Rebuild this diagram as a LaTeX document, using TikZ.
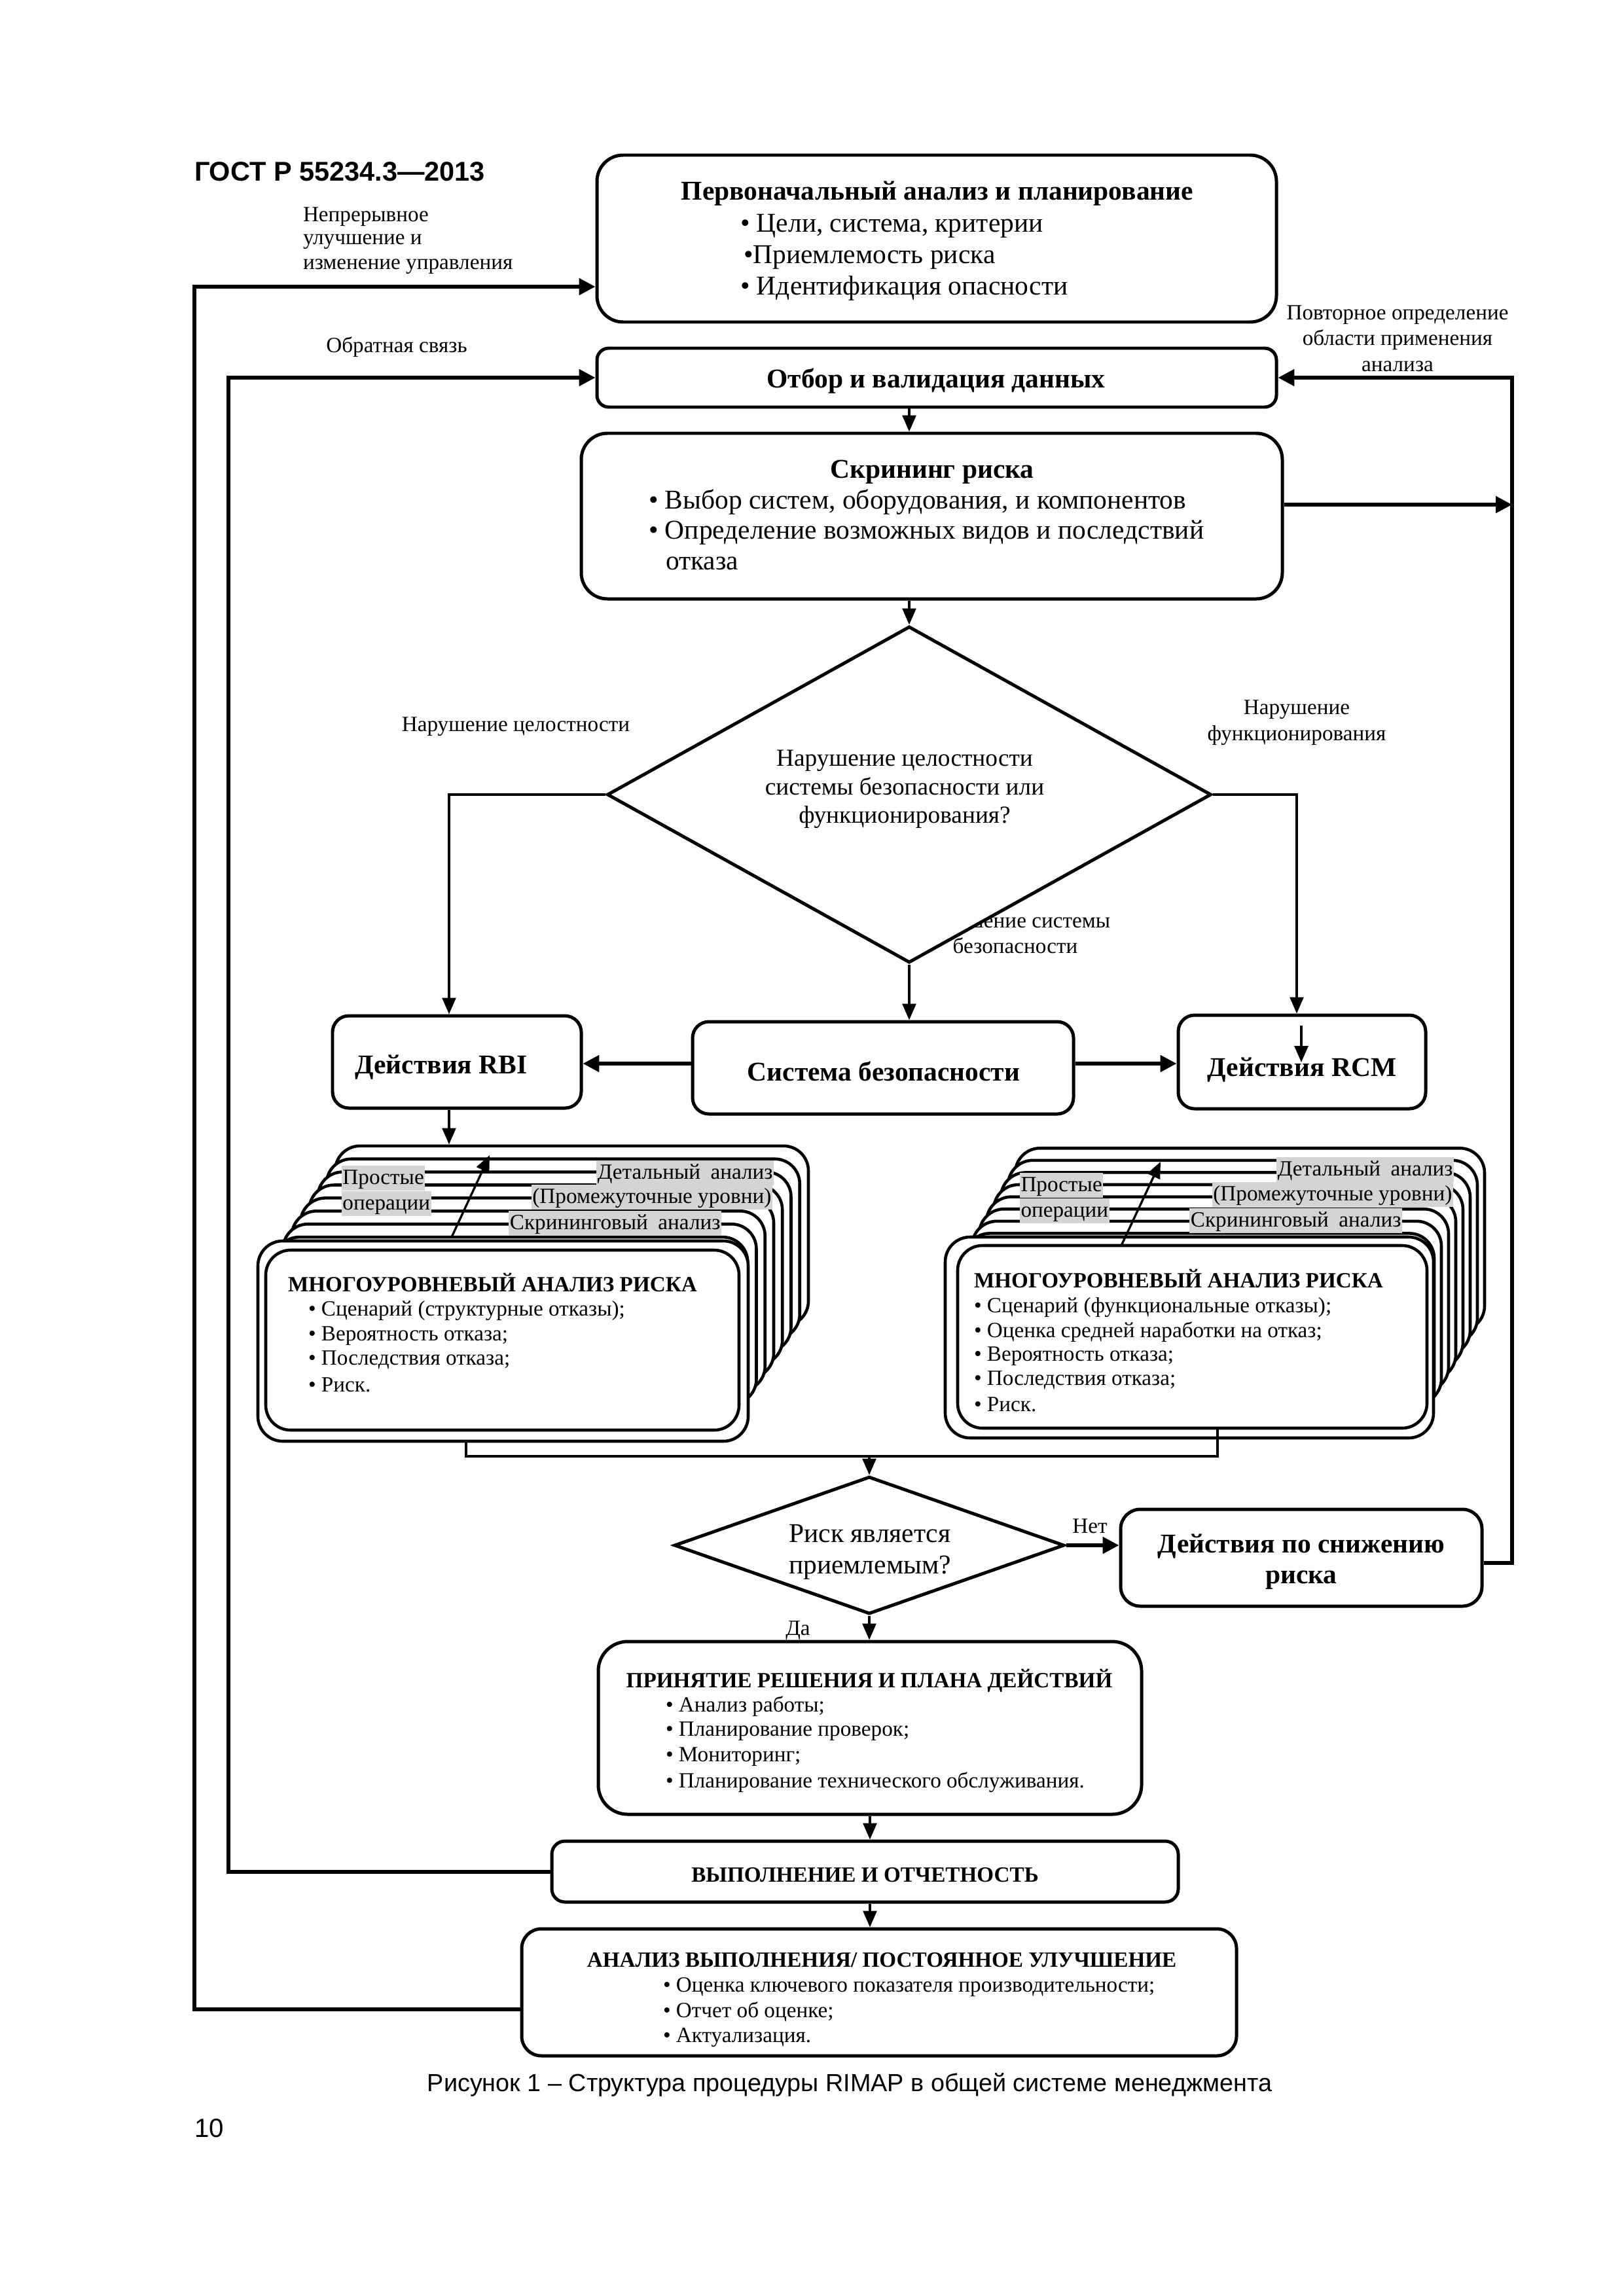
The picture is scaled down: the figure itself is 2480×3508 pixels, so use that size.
\documentclass[tikz,border=0pt]{standalone}
\usepackage{fontspec}
\usepackage{graphicx}
\setmainfont{Liberation Serif}
\newfontfamily\arialfam{Liberation Sans}
\usetikzlibrary{shapes.geometric,arrows.meta,calc}
\newlength\pxl
\setlength\pxl{0.0084677cm}
\definecolor{labgrey}{gray}{0.83}
\newcommand\fTen{\fontsize{10}{11.5}\selectfont}
\newcommand\fNine{\fontsize{9}{10.5}\selectfont}
\newcommand\fEight{\fontsize{8}{9.5}\selectfont}
\newcommand\hdrfont{\arialfam\bfseries\fontsize{10}{12}\selectfont}
\newcommand\capfont{\arialfam\fontsize{9.1}{12}\selectfont}
\newcommand\pgnfont{\arialfam\fontsize{9.7}{12}\selectfont}
\tikzset{
  box/.style={draw, line width=1.2pt, fill=white, inner sep=0pt, rounded corners=#1*\pxl},
  wh/.style 2 args={minimum width=#1*\pxl, minimum height=#2*\pxl},
  layer/.style={draw, line width=1.1pt, fill=white, inner sep=0pt, rounded corners=38*\pxl},
  dia/.style={draw, shape=diamond, line width=1.2pt, fill=white, inner sep=0pt},
  txt/.style={inner sep=0pt, outer sep=0pt, yshift=-5*\pxl},
  grey/.style={fill=labgrey, inner xsep=0.4pt, inner ysep=0.6pt, text height=6.2pt, text depth=1.9pt, font=\fEight},
  arr/.style={line width=0.8pt, -{Triangle[length=6pt,width=5pt]}},
  tarr/.style={line width=1.3pt, -{Triangle[length=6pt,width=6pt]}},
  ln/.style={line width=0.9pt},
}
\begin{document}
\begin{tikzpicture}[x=0.0084677cm, y=-0.0084677cm]
\fill[white] (0,0) rectangle (2480,3508);
\useasboundingbox (0,0) rectangle (2480,3508);

% header
\node[txt, anchor=west, font=\hdrfont] (hdr) at (297,257) {ГОСТ Р 55234.3—2013};

% side labels
\node[txt, anchor=west, font=\fEight] (ll1) at (463,326) {Непрерывное};
\node[txt, anchor=west, font=\fEight] (ll2) at (463,364) {улучшение и};
\node[txt, anchor=west, font=\fEight] (ll3) at (463,402) {изменение управления};
\node[txt, font=\fEight] (lfb) at (606,525) {Обратная связь};
\node[txt, font=\fEight, align=center] (lre) at (2135,512) {Повторное определение\\области применения\\анализа};

% box 1
\node[box=40, wh={1038}{255}] (b1) at (1431,364.5) {};
\node[txt, font=\fTen\bfseries] (b1t) at (1432,291) {Первоначальный анализ и планирование};
\node[txt, anchor=west, font=\fTen] (b1a) at (1131,340) {• Цели, система, критерии};
\node[txt, anchor=west, font=\fTen] (b1b) at (1136,388) {•Приемлемость риска};
\node[txt, anchor=west, font=\fTen] (b1c) at (1131,436) {• Идентификация опасности};

% box 2
\node[box=18, wh={1038}{90}] (b2) at (1431,577) {};
\node[txt, font=\fTen\bfseries] (b2t) at (1430,577) {Отбор и валидация данных};

% box 3
\node[box=40, wh={1071}{253}] (b3) at (1423.5,788.5) {};
\node[txt, font=\fTen\bfseries] (b3t) at (1424,716) {Скрининг риска};
\node[txt, anchor=west, font=\fTen] (b3a) at (991,762) {• Выбор систем, оборудования, и компонентов};
\node[txt, anchor=west, font=\fTen] (b3b) at (991,809) {• Определение возможных видов и последствий};
\node[txt, anchor=west, font=\fTen] (b3c) at (1017,856) {отказа};

% diamond 1 and its labels
\node[txt, font=\fEight, align=center] (lsafe) at (1551,1421) {Нарушение системы\\безопасности};
\node[dia, wh={923}{514}] (d1) at (1389,1214) {};
\node[txt, font=\fNine, align=center] (d1t) at (1382,1201) {Нарушение целостности\\системы безопасности или\\функционирования?};
\node[txt, font=\fEight] (lint) at (788,1105) {Нарушение целостности};
\node[txt, font=\fEight, align=center] (lfun) at (1981,1099) {Нарушение\\функционирования};

% row of boxes
\node[box=25, wh={380}{141}] (rbi) at (698,1622.5) {};
\node[txt, font=\fTen\bfseries] (rbit) at (674,1626) {Действия RBI};
\node[box=25, wh={582}{141}] (sys) at (1349,1631.5) {};
\node[txt, font=\fTen\bfseries] (syst) at (1350,1632) {Система безопасности};
\node[box=25, wh={378}{143}] (rcm) at (1989,1622.5) {};
\node[txt, font=\fTen\bfseries] (rcmt) at (1989,1630) {Действия RCM};

% left stack
\foreach \i in {8,7,...,1}
  \node[layer, wh={723}{275}] (L\i) at ({767.5+13.25*\i},{2047.5-19.9*\i}) {};
\node[layer, wh={749}{306}] (Lu) at (768.5,2049) {};
\node[layer, wh={723}{275}] (L0) at (767.5,2047.5) {};
\node[grey, anchor=north west] (lsp) at (521,1780) {Простые};
\node[grey, anchor=north west] (lso) at (521,1819) {операции};
\node[grey, anchor=north east] (lsd) at (1183,1772) {\makebox[64.5pt][s]{Детальный анализ}};
\node[grey, anchor=north east] (lsi) at (1181,1809) {\resizebox{88pt}{\height}{(Промежуточные уровни)}};
\node[grey, anchor=north east] (lss) at (1103,1849) {\makebox[77.5pt][s]{Скрининговый анализ}};
\node[txt, anchor=west, font=\fEight\bfseries] (lmt) at (440,1955) {МНОГОУРОВНЕВЫЙ АНАЛИЗ РИСКА};
\node[txt, anchor=west, font=\fEight] (lm1) at (471,1998) {• Сценарий (структурные отказы);};
\node[txt, anchor=west, font=\fEight] (lm2) at (471,2036) {• Вероятность отказа;};
\node[txt, anchor=west, font=\fEight] (lm3) at (471,2073) {• Последствия отказа;};
\node[txt, anchor=west, font=\fEight] (lm4) at (471,2111) {• Риск.};

% right stack
\foreach \i in {8,7,...,1}
  \node[layer, wh={717}{279}] (R\i) at ({1821.5+11*\i},{2042.5-18.6*\i}) {};
\node[layer, wh={746}{307}] (Ru) at (1817,2043.5) {};
\node[layer, wh={717}{279}] (R0) at (1821.5,2042.5) {};
\node[grey, anchor=north west] (rsp) at (1557,1791) {Простые};
\node[grey, anchor=north west] (rso) at (1557,1830) {операции};
\node[grey, anchor=north east] (rsd) at (2222,1767) {\makebox[64.5pt][s]{Детальный анализ}};
\node[grey, anchor=north east] (rsi) at (2221,1805) {\resizebox{88pt}{\height}{(Промежуточные уровни)}};
\node[grey, anchor=north east] (rss) at (2143,1845) {\makebox[77.5pt][s]{Скрининговый анализ}};
\node[txt, anchor=west, font=\fEight\bfseries] (rmt) at (1488,1948) {МНОГОУРОВНЕВЫЙ АНАЛИЗ РИСКА};
\node[txt, anchor=west, font=\fEight] (rm1) at (1488,1993) {• Сценарий (функциональные отказы);};
\node[txt, anchor=west, font=\fEight] (rm2) at (1488,2030) {• Оценка средней наработки на отказ;};
\node[txt, anchor=west, font=\fEight] (rm3) at (1488,2067) {• Вероятность отказа;};
\node[txt, anchor=west, font=\fEight] (rm4) at (1488,2104) {• Последствия отказа;};
\node[txt, anchor=west, font=\fEight] (rm5) at (1488,2141) {• Риск.};

% diamond 2
\node[dia, wh={596}{210}] (d2) at (1328,2361) {};
\node[txt, font=\fTen, align=center] (d2t) at (1329,2366) {Риск является\\приемлемым?};
\node[txt, font=\fEight] (lno) at (1665,2327) {Нет};
\node[txt, font=\fEight] (lyes) at (1219,2486) {Да};
\node[box=30, wh={552}{148}] (mit) at (1988,2380) {};
\node[txt, font=\fTen\bfseries, align=center] (mitt) at (1988,2381) {Действия по снижению\\риска};

% decision box
\node[box=45, wh={830}{264}] (dec) at (1329,2640) {};
\node[txt, font=\fEight\bfseries] (dect) at (1328,2563) {ПРИНЯТИЕ РЕШЕНИЯ И ПЛАНА ДЕЙСТВИЙ};
\node[txt, anchor=west, font=\fEight] (dec1) at (1017,2602) {• Анализ работы;};
\node[txt, anchor=west, font=\fEight] (dec2) at (1017,2640) {• Планирование проверок;};
\node[txt, anchor=west, font=\fEight] (dec3) at (1017,2679) {• Мониторинг;};
\node[txt, anchor=west, font=\fEight] (dec4) at (1017,2718) {• Планирование технического обслуживания.};

% execution box
\node[box=20, wh={957}{93}] (ex) at (1321.5,2859.5) {};
\node[txt, font=\fEight\bfseries] (ext) at (1321.5,2860) {ВЫПОЛНЕНИЕ И ОТЧЕТНОСТЬ};

% analysis box
\node[box=30, wh={1092}{194}] (an) at (1343,3044) {};
\node[txt, font=\fEight\bfseries] (ant) at (1347,2990) {АНАЛИЗ ВЫПОЛНЕНИЯ/ ПОСТОЯННОЕ УЛУЧШЕНИЕ};
\node[txt, anchor=west, font=\fEight] (an1) at (1013,3031) {• Оценка ключевого показателя производительности;};
\node[txt, anchor=west, font=\fEight] (an2) at (1013,3069) {• Отчет об оценке;};
\node[txt, anchor=west, font=\fEight] (an3) at (1013,3108) {• Актуализация.};

% caption and page number
\node[txt, font=\capfont] (cap) at (1298,3180) {Рисунок 1 – Структура процедуры RIMAP в общей системе менеджмента};
\node[txt, anchor=west, font=\pgnfont] (pg) at (297,3247) {10};

% coordinates
\coordinate (o1) at (297,3070);
\coordinate (o2) at (297,438);
\coordinate (f1) at (349,2860);
\coordinate (f2) at (349,577);
\coordinate (r1) at (2310,2388);
\coordinate (r2) at (2310,577);
\coordinate (r3) at (2310,771);
\coordinate (c1) at (686,1214);
\coordinate (c2) at (1981,1214);
\coordinate (k1) at (1988,1567);
\coordinate (k2) at (1988,1623);
\coordinate (h1) at (1200,1625);
\coordinate (aL1) at (690,1890);
\coordinate (aL2) at (748,1765);
\coordinate (aR1) at (1713,1903);
\coordinate (aR2) at (1773,1775);
\coordinate (j1) at (712,2225);
\coordinate (j2) at (1860,2225);
\coordinate (j3) at (1328,2225);

% connectors
\draw[tarr] (an.west |- o1) -- (o1) -- (o2) -- (o2 -| b1.west);
\draw[tarr] (ex.west |- f1) -- (f1) -- (f2) -- (b2.west);
\draw[tarr] (mit.east |- r1) -- (r1) -- (r2) -- (b2.east);
\draw[tarr] (b3.east |- r3) -- (r3);
\draw[arr] (b2.south -| d1.north) -- (b3.north -| d1.north);
\draw[arr] (b3.south -| d1.north) -- (d1.north);
\draw[arr] (d1.west) -- (c1) -- (c1 |- rbi.north);
\draw[arr] (d1.east) -- (c2) -- (c2 |- rcm.north);
\draw[arr] (k1) -- (k2);
\draw[arr] (d1.south) -- (d1.south |- sys.north);
\draw[tarr] (sys.west |- h1) -- (rbi.east |- h1);
\draw[tarr] (sys.east |- h1) -- (rcm.west |- h1);
\draw[arr] (rbi.south -| c1) -- (L8.north -| c1);
\draw[arr] (aL1) -- (aL2);
\draw[arr] (aR1) -- (aR2);
\draw[ln] (Lu.south -| j1) -- (j1) -- (j2) -- (R0.south -| j2);
\draw[arr] (j3) -- (d2.north);
\draw[tarr] (d2.east) -- (d2.east -| mit.west);
\draw[arr] (d2.south) -- (d2.south |- dec.north);
\draw[arr] (dec.south) -- (dec.south |- ex.north);
\draw[arr] (dec.south |- ex.south) -- (dec.south |- an.north);
\end{tikzpicture}
\end{document}
